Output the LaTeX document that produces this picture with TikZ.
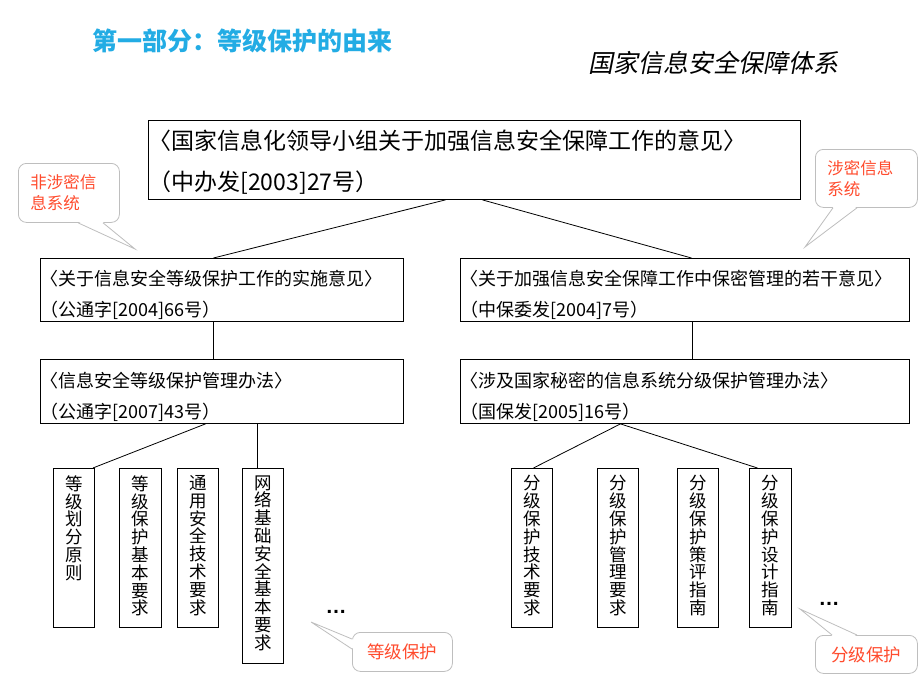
\documentclass[tikz,border=0pt]{standalone}
\usepackage{fontspec}
\newfontfamily\cjk{Noto Sans CJK SC}
\newfontfamily\cjkit{Noto Sans CJK SC}[FakeSlant=0.2]
\newfontfamily\lsans{Liberation Sans}
\definecolor{titlecyan}{RGB}{35,172,228}
\definecolor{calloutred}{RGB}{255,75,45}
\definecolor{callgray}{RGB}{190,190,190}
\tikzset{
  docbox/.style={draw=black, line width=0.9pt, anchor=north west, align=left,
    inner xsep=0pt, inner ysep=0pt},
  vbox/.style={draw=black, line width=0.9pt, anchor=north west, inner xsep=0pt,
    inner ysep=7pt, minimum width=41pt},
  callbox/.style={draw=callgray, line width=0.8pt, rounded corners=8pt, fill=white,
    anchor=north west, text=calloutred, font=\cjk\fontsize{16.5}{21}\selectfont,
    inner sep=0pt},
  tailline/.style={draw=callgray, line width=0.8pt},
  link/.style={draw=black, line width=0.8pt},
}
\newcommand{\vtext}[2]{\parbox[c][#1][t]{30pt}{\centering\cjk\fontsize{17.5}{17.8}\selectfont #2}}
\newcommand{\tallstrut}[1]{\rule{0pt}{#1}}
\begin{document}
\begin{tikzpicture}[x=1pt,y=-1pt]
\useasboundingbox (0,0) rectangle (920,690);

% titles
\node[anchor=west, inner sep=0pt, text=titlecyan, font=\cjk\bfseries\fontsize{25}{25}\selectfont] (title) at (92,41) {第一部分：等级保护的由来};
\node[anchor=west, inner sep=0pt, font=\cjkit\fontsize{25}{25}\selectfont] (subtitle) at (588,63) {国家信息安全保障体系};

% top box
\node[docbox, minimum width=652pt, minimum height=79pt, text width=652pt,
  font=\cjk\fontsize{23}{41}\selectfont] (top) at (148,120)
  {\tallstrut{1.05em}〈国家信息化领导小组关于加强信息安全保障工作的意见〉\\（中办发[2003]27号）};

% second row
\node[docbox, minimum width=363pt, minimum height=63pt, text width=363pt,
  font=\cjk\fontsize{18}{31}\selectfont] (a2) at (40,258)
  {\tallstrut{1.4em}〈关于信息安全等级保护工作的实施意见〉\\（公通字[2004]66号）};
\node[docbox, minimum width=449pt, minimum height=63pt, text width=449pt,
  font=\cjk\fontsize{18}{31}\selectfont] (b2) at (460,258)
  {\tallstrut{1.4em}〈关于加强信息安全保障工作中保密管理的若干意见〉\\（中保委发[2004]7号）};

% third row
\node[docbox, minimum width=363pt, minimum height=64pt, text width=363pt,
  font=\cjk\fontsize{18}{31}\selectfont] (a3) at (40,359)
  {\tallstrut{1.4em}〈信息安全等级保护管理办法〉\\（公通字[2007]43号）};
\node[docbox, minimum width=449pt, minimum height=64pt, text width=449pt,
  font=\cjk\fontsize{18}{31}\selectfont] (b3) at (460,359)
  {\tallstrut{1.4em}〈涉及国家秘密的信息系统分级保护管理办法〉\\（国保发[2005]16号）};

% vertical boxes left
\node[vbox] (a4) at (53,468) {\vtext{145pt}{等\\级\\划\\分\\原\\则}};
\node[vbox, minimum width=42pt] (a5) at (119,468) {\vtext{145pt}{等\\级\\保\\护\\基\\本\\要\\求}};
\node[vbox] (a6) at (177,468) {\vtext{145pt}{通\\用\\安\\全\\技\\术\\要\\求}};
\node[vbox] (a7) at (242,468) {\vtext{181pt}{网\\络\\基\\础\\安\\全\\基\\本\\要\\求}};

% vertical boxes right
\node[vbox] (b4) at (511,468) {\vtext{145pt}{分\\级\\保\\护\\技\\术\\要\\求}};
\node[vbox] (b5) at (597,468) {\vtext{145pt}{分\\级\\保\\护\\管\\理\\要\\求}};
\node[vbox] (b6) at (677,468) {\vtext{145pt}{分\\级\\保\\护\\策\\评\\指\\南}};
\node[vbox, minimum width=42pt] (b7) at (749,468) {\vtext{145pt}{分\\级\\保\\护\\设\\计\\指\\南}};

% ellipses
\node[inner sep=0pt, font=\lsans\bfseries\fontsize{21}{21}\selectfont] (dotsA) at (336,612) {…};
\node[inner sep=0pt, font=\lsans\bfseries\fontsize{21}{21}\selectfont] (dotsB) at (829,604) {…};

% connectors
\draw[link] ([xshift=-29pt]top.south) -- ([xshift=-8.5pt]a2.north);
\draw[link] ([xshift=8pt]top.south) -- ([xshift=6.5pt]b2.north);
\draw[link] ([xshift=-8.5pt]a2.south) -- ([xshift=-8.5pt]a3.north);
\draw[link] ([xshift=7.5pt]b2.south) -- ([xshift=7.5pt]b3.north);
\draw[link] ([xshift=-16.5pt]a3.south) -- ([xshift=-2pt]a4.north east);
\coordinate (a7t) at ([xshift=-5.5pt]a7.north);
\draw[link] (a7t) -- (a7t |- a3.south);
\draw[link] ([xshift=-64.5pt]b3.south) -- ([xshift=1.5pt]b4.north);
\draw[link] ([xshift=-64.5pt]b3.south) -- ([xshift=-13pt]b7.north);

% callouts
\node[callbox, minimum width=101pt, minimum height=59pt, text width=77pt, align=left,
  inner xsep=12pt] (c1) at (18,163) {非涉密信\\息系统};
\coordinate (c1tip) at (135,249);
\fill[white] ([xshift=60.5pt,yshift=1pt]c1.south west) -- (c1tip) -- ([xshift=84.5pt,yshift=1pt]c1.south west) -- cycle;
\draw[tailline] ([xshift=60pt]c1.south west) -- (c1tip) -- ([xshift=85pt]c1.south west);

\node[callbox, minimum width=102pt, minimum height=58pt, text width=78pt, align=left,
  inner xsep=12pt] (c2) at (815,149) {涉密信息\\系统};
\coordinate (c2tip) at (805,247);
\fill[white] ([xshift=18.5pt,yshift=1pt]c2.south west) -- (c2tip) -- ([xshift=41.5pt,yshift=1pt]c2.south west) -- cycle;
\draw[tailline] ([xshift=18pt]c2.south west) -- (c2tip) -- ([xshift=42pt]c2.south west);

\node[callbox, minimum width=100pt, minimum height=39pt, font=\cjk\fontsize{17.5}{21}\selectfont] (c3) at (352,632) {等级保护};
\coordinate (c3tip) at (311,622);
\fill[white] ([xshift=1pt,yshift=-7.5pt]c3.north west) -- (c3tip) -- ([xshift=1pt,yshift=-16.5pt]c3.north west) -- cycle;
\draw[tailline] ([yshift=-7pt]c3.north west) -- (c3tip) -- ([yshift=-17pt]c3.north west);

\node[callbox, minimum width=102pt, minimum height=38pt, font=\cjk\fontsize{17.5}{21}\selectfont] (c4) at (815,635) {分级保护};
\coordinate (c4tip) at (800,609);
\fill[white] ([xshift=17.5pt,yshift=-1pt]c4.north west) -- (c4tip) -- ([xshift=41.5pt,yshift=-1pt]c4.north west) -- cycle;
\draw[tailline] ([xshift=17pt]c4.north west) -- (c4tip) -- ([xshift=42pt]c4.north west);
\end{tikzpicture}
\end{document}
